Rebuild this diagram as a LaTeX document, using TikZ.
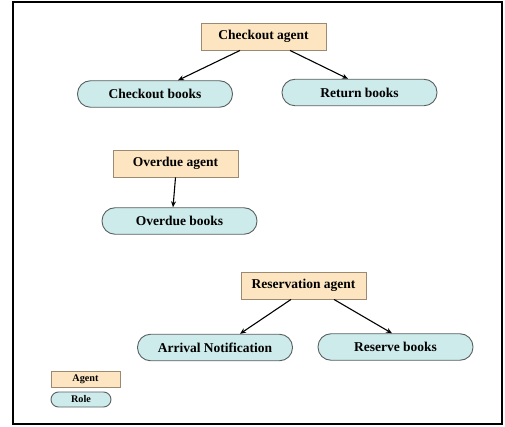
\documentclass[tikz,border=0pt]{standalone}
\usepackage{fontspec}
\setmainfont{Liberation Serif}
\usetikzlibrary{arrows.meta}
\definecolor{agentfill}{HTML}{FCE5C0}
\definecolor{agentdraw}{HTML}{9A8A72}
\definecolor{rolefill}{HTML}{CDEBEB}
\definecolor{roledraw}{HTML}{5A6060}
\tikzset{
  agentbox/.style={draw=agentdraw, fill=agentfill, line width=0.9pt, rectangle, inner sep=0pt,
    minimum width=125pt, minimum height=27pt, font=\fontsize{13.5}{15}\selectfont\bfseries},
  rolebox/.style={draw=roledraw, fill=rolefill, line width=0.9pt, rectangle, rounded corners=13pt, inner sep=0pt,
    minimum width=155pt, minimum height=26.5pt, font=\fontsize{13.5}{15}\selectfont\bfseries},
  legagent/.style={agentbox, minimum width=69pt, minimum height=16pt, font=\fontsize{10.2}{12}\selectfont\bfseries},
  legrole/.style={rolebox, rounded corners=7.5pt, minimum width=60pt, minimum height=15pt, font=\fontsize{10.2}{12}\selectfont\bfseries},
  conn/.style={-{Stealth[length=6pt,width=5pt]}, line width=1.1pt, black}
}
\begin{document}
\begin{tikzpicture}[x=1pt,y=1pt]
\useasboundingbox (0,0) rectangle (505,-427);
\draw[line width=2pt] (13,-2) rectangle (502,-424);
\node[agentbox] (ca) at (263.5,-36.5) {Checkout agent};
\node[rolebox] (cb) at (155,-94) {Checkout books};
\node[rolebox] (rb) at (359.5,-92.5) {Return books};
\node[agentbox] (oa) at (175.5,-163.5) {Overdue agent};
\node[rolebox] (ob) at (179.5,-221) {Overdue books};
\node[agentbox] (ra) at (303.5,-285.5) {Reservation agent};
\node[rolebox] (an) at (215,-347.5) {Arrival Notification};
\node[rolebox] (rs) at (395.5,-347) {Reserve books};
\node[legagent] (la) at (85.5,-379) {Agent};
\node[legrole] (lr) at (81,-399.5) {Role};
\draw[conn] ([xshift=-23.5pt]ca.south) -- ([xshift=23pt]cb.north);
\draw[conn] ([xshift=26.5pt]ca.south) -- ([xshift=-11.5pt]rb.north);
\draw[conn] (oa.south) -- ([xshift=-6.5pt]ob.north);
\draw[conn] ([xshift=-12.5pt]ra.south) -- ([xshift=25pt]an.north);
\draw[conn] ([xshift=30.5pt]ra.south) -- ([xshift=-3.5pt]rs.north);
\end{tikzpicture}
\end{document}
